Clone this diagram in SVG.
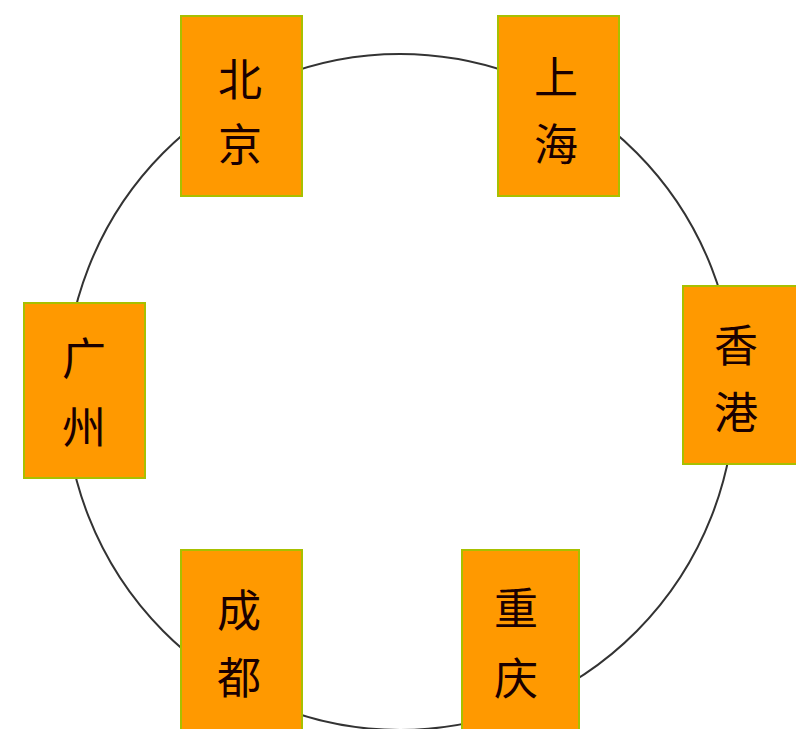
<svg xmlns="http://www.w3.org/2000/svg" width="796" height="729" viewBox="0 0 796 729">
<style>
.box{fill:#FF9900;stroke:#A8C000;stroke-width:2}
.lbl{font-family:"Noto Sans CJK SC","Noto Sans CJK JP",sans-serif;font-size:44px;fill:#1a0000;text-anchor:middle;dominant-baseline:central}
.ring{fill:none;stroke:#333333;stroke-width:2}
</style>
<rect width="796" height="729" fill="#FFFFFF"/>
<g id="connectors">
<ellipse class="ring" cx="400" cy="392" rx="335" ry="338"/>
</g>
<g id="beijing">
<rect class="box" x="181" y="16" width="121" height="180"/>
<text class="lbl" x="240" y="77">北</text>
<text class="lbl" x="240" y="142">京</text>
</g>
<g id="shanghai">
<rect class="box" x="498" y="16" width="121" height="180"/>
<text class="lbl" x="556" y="75">上</text>
<text class="lbl" x="556" y="142">海</text>
</g>
<g id="guangzhou">
<rect class="box" x="24" y="303" width="121" height="175"/>
<text class="lbl" x="84" y="356">广</text>
<text class="lbl" x="84" y="425">州</text>
</g>
<g id="hongkong">
<rect class="box" x="683" y="286" width="120" height="178"/>
<text class="lbl" x="736" y="343">香</text>
<text class="lbl" x="736" y="410">港</text>
</g>
<g id="chengdu">
<rect class="box" x="181" y="550" width="121" height="185"/>
<text class="lbl" x="239" y="608">成</text>
<text class="lbl" x="239" y="675">都</text>
</g>
<g id="chongqing">
<rect class="box" x="462" y="550" width="117" height="185"/>
<text class="lbl" x="516" y="606">重</text>
<text class="lbl" x="516" y="676">庆</text>
</g>
</svg>
